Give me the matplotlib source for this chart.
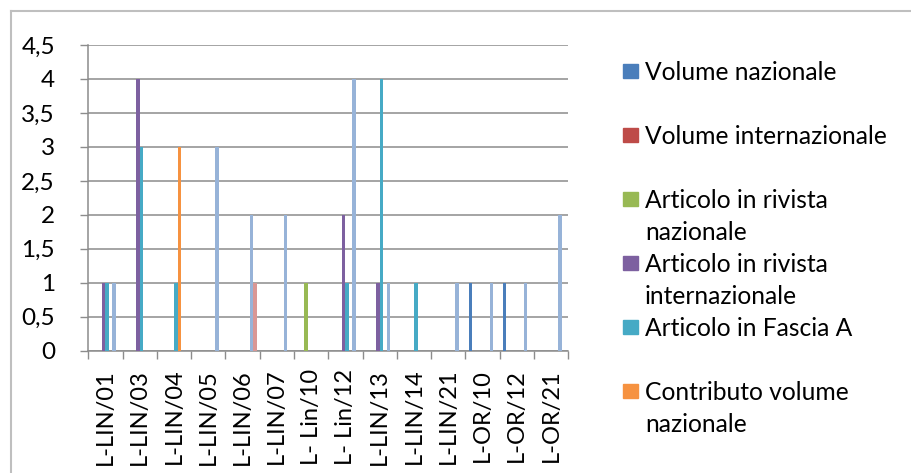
import matplotlib
matplotlib.use("Agg")
import matplotlib.pyplot as plt
import numpy as np
from matplotlib.lines import Line2D
from matplotlib.patches import Rectangle

# Data
categories = ["L-LIN/01", "L-LIN/03", "L-LIN/04", "L-LIN/05", "L-LIN/06", "L-LIN/07",
              "L- Lin/10", "L- Lin/12", "L-LIN/13", "L-LIN/14", "L-LIN/21",
              "L-OR/10", "L-OR/12", "L-OR/21"]
volume_nazionale = [0, 0, 0, 0, 0, 0, 0, 0, 0, 0, 0, 1, 1, 0]
volume_internazionale = [0, 0, 0, 0, 0, 0, 0, 0, 0, 0, 0, 0, 0, 0]
articolo_nazionale = [0, 0, 0, 0, 0, 0, 1, 0, 0, 0, 0, 0, 0, 0]
articolo_internazionale = [1, 4, 0, 0, 0, 0, 0, 2, 1, 0, 0, 0, 0, 0]
articolo_fascia_a = [1, 3, 1, 0, 0, 0, 0, 1, 4, 1, 0, 0, 0, 0]
contributo_nazionale = [0, 0, 3, 0, 0, 0, 0, 0, 0, 0, 0, 0, 0, 0]
serie_7 = [1, 0, 0, 3, 2, 2, 0, 4, 1, 0, 1, 1, 1, 2]
serie_8 = [0, 0, 0, 0, 1, 0, 0, 0, 0, 0, 0, 0, 0, 0]

series = [volume_nazionale, volume_internazionale, articolo_nazionale,
          articolo_internazionale, articolo_fascia_a, contributo_nazionale,
          serie_7, serie_8]
colors = ["#4A7EBB", "#BE4B48", "#98B954", "#7D60A0", "#46AAC5", "#F69240",
          "#97B3D8", "#D99795"]
# only the first six entries are visible in the (cropped) legend
legend_labels = ["Volume nazionale", "Volume internazionale",
                 "Articolo in rivista\nnazionale", "Articolo in rivista\ninternazionale",
                 "Articolo in Fascia A", "Contributo volume\nnazionale"]

plt.rcParams['font.family'] = ['Lato', 'DejaVu Sans']
FS = 17
W, H = 912, 473
fig = plt.figure(figsize=(W / 100, H / 100), dpi=100)
ax = fig.add_axes([88.3 / W, 1 - 350.7 / H, 480 / W, (350.7 - 45) / H])

n = len(series)
bw = 0.102
x = np.arange(len(categories))
for i, (vals, c) in enumerate(zip(series, colors)):
    ax.bar(x - n * bw / 2 + bw * (i + 0.5), vals, width=bw, color=c, zorder=3)

grey = "#8C8C8C"
ax.set_xlim(-0.5, len(categories) - 0.5)
ax.set_ylim(0, 4.5)
yt = np.arange(0, 4.51, 0.5)
ax.set_yticks(yt)
ax.set_yticklabels([("%g" % v).replace(".", ",") for v in yt], fontsize=FS + 0.5)
ax.yaxis.grid(True, color=grey, linewidth=1.1, zorder=0)
ax.tick_params(axis='y', length=6, color=grey, pad=18, width=1)

ax.set_xticks(x)
ax.set_xticklabels(categories, rotation=90, fontsize=FS)
ax.set_xticks(np.arange(-0.5, len(categories)), minor=True)
ax.tick_params(axis='x', which='major', length=0, pad=13)
ax.tick_params(axis='x', which='minor', length=6, color=grey, width=1)

for s in ["top", "right"]:
    ax.spines[s].set_visible(False)
for s in ["left", "bottom"]:
    ax.spines[s].set_color(grey)
    ax.spines[s].set_linewidth(1.1)

# chart area border (only top and left visible in the crop)
fig.add_artist(Line2D([11 / W, 1], [1 - 11 / H, 1 - 11 / H], color="#BFBFBF", lw=1.5))
fig.add_artist(Line2D([11 / W, 11 / W], [0, 1 - 11 / H], color="#BFBFBF", lw=1.5))

# legend, drawn in Excel's layout: one 64px slot per entry, text top aligned
for k, (lab, c) in enumerate(zip(legend_labels, colors)):
    base = 80 + 64 * k
    fig.add_artist(Rectangle((623 / W, 1 - (base - 2) / H), 15 / W, 14 / H,
                             color=c, transform=fig.transFigure))
    for j, line in enumerate(lab.split("\n")):
        fig.text(645 / W, 1 - (base + 32 * j) / H, line, fontsize=FS + 0.7,
                 va="baseline", ha="left")

fig.savefig("out.png", dpi=100)
